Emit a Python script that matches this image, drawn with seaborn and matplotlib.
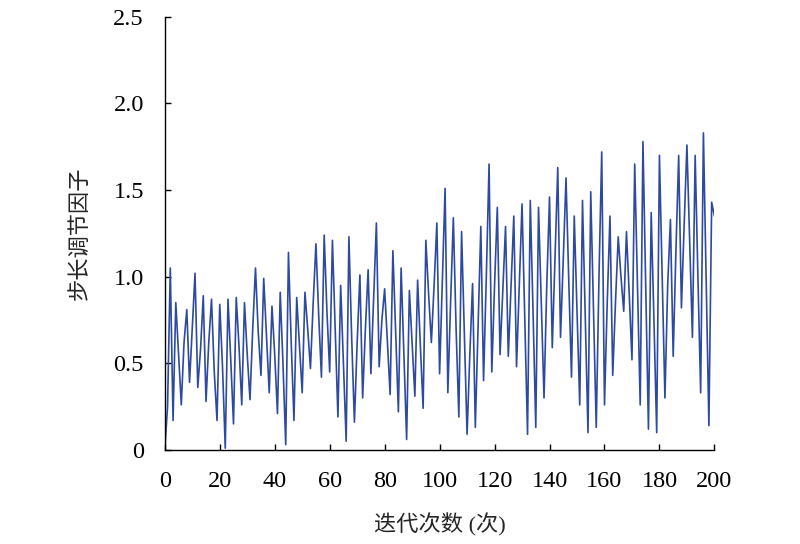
import pandas as pd
import seaborn as sns
import matplotlib
matplotlib.use("Agg")
import matplotlib.pyplot as plt

# values, one per iteration (0..200)
iteration = list(range(201))
factor = [
    0.00, 0.25, 1.05, 0.17, 0.85, 0.55, 0.26, 0.62, 0.81, 0.39,
    0.70, 1.02, 0.36, 0.58, 0.89, 0.28, 0.62, 0.87, 0.45, 0.17,
    0.84, 0.48, 0.01, 0.87, 0.52, 0.15, 0.88, 0.60, 0.26, 0.85,
    0.55, 0.29, 0.70, 1.05, 0.68, 0.43, 0.99, 0.66, 0.33, 0.83,
    0.55, 0.21, 0.91, 0.50, 0.03, 1.14, 0.62, 0.17, 0.88, 0.60,
    0.33, 0.91, 0.70, 0.47, 0.85, 1.19, 0.78, 0.42, 1.24, 0.80,
    0.45, 1.21, 0.70, 0.19, 0.95, 0.50, 0.05, 1.23, 0.65, 0.16,
    0.62, 1.01, 0.30, 0.70, 1.04, 0.44, 0.88, 1.31, 0.48, 0.75,
    0.93, 0.62, 0.32, 1.15, 0.68, 0.22, 1.05, 0.55, 0.06, 0.92,
    0.62, 0.31, 0.98, 0.60, 0.24, 1.21, 0.90, 0.62, 0.95, 1.31,
    0.44, 0.98, 1.51, 0.33, 0.85, 1.34, 0.70, 0.19, 1.26, 0.68,
    0.09, 0.55, 0.96, 0.13, 0.72, 1.29, 0.40, 1.00, 1.65, 0.45,
    0.95, 1.40, 0.55, 0.92, 1.29, 0.54, 0.95, 1.35, 0.48, 0.95,
    1.42, 0.75, 0.09, 1.44, 0.80, 0.13, 1.40, 0.85, 0.30, 0.95,
    1.46, 0.59, 1.10, 1.63, 0.65, 1.10, 1.57, 0.98, 0.42, 1.35,
    0.80, 0.26, 1.44, 0.78, 0.10, 1.49, 0.82, 0.13, 1.00, 1.72,
    0.26, 0.85, 1.35, 0.43, 0.85, 1.23, 1.00, 0.80, 1.26, 0.90,
    0.52, 1.65, 0.95, 0.26, 1.78, 0.95, 0.12, 1.37, 0.75, 0.10,
    1.70, 1.00, 0.30, 0.95, 1.33, 0.54, 1.15, 1.70, 0.82, 1.30,
    1.76, 1.20, 0.65, 1.70, 1.00, 0.33, 1.83, 1.00, 0.14, 1.43,
    1.35,
]
x_ticks = [0, 20, 40, 60, 80, 100, 120, 140, 160, 180, 200]
y_ticks = [0, 0.5, 1.0, 1.5, 2.0, 2.5]
y_tick_labels = ["0", "0.5", "1.0", "1.5", "2.0", "2.5"]

df = pd.DataFrame({"iter": iteration, "factor": factor})

sns.set_style("ticks")
plt.rcParams["font.family"] = ["Liberation Serif", "Noto Sans CJK SC"]
plt.rcParams["xtick.direction"] = "in"
plt.rcParams["ytick.direction"] = "in"

fig = plt.figure(figsize=(8, 5.44), dpi=100)
ax = fig.add_axes([0.206, 0.173, 0.687, 0.796])
sns.lineplot(data=df, x="iter", y="factor", ax=ax, color="#2e4aa0", linewidth=1.2)

ax.set_xlim(0, 200)
ax.set_ylim(0, 2.5)
ax.set_xticks(x_ticks)
ax.set_yticks(y_ticks)
ax.set_yticklabels(y_tick_labels)
ax.tick_params(labelsize=17.5, length=4, width=1, colors="black", pad=15)
for s in ["top", "right"]:
    ax.spines[s].set_visible(False)
for s in ["left", "bottom"]:
    ax.spines[s].set_linewidth(1.0)
    ax.spines[s].set_color("black")

ax.set_xlabel("迭代次数 (次)", fontsize=16)
ax.set_ylabel("步长调节因子", fontsize=16)
ax.xaxis.set_label_coords(0.5, -0.147)
ax.yaxis.set_label_coords(-0.134, 0.5)

fig.savefig("out.png", dpi=100)
